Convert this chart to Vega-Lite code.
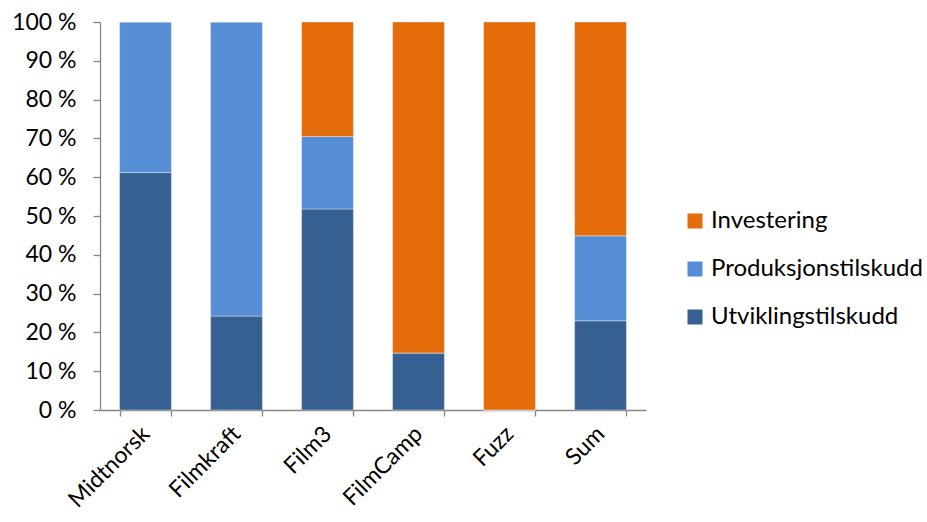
{
  "$schema": "https://vega.github.io/schema/vega-lite/v6.json",
  "autosize": {"type": "none"},
  "width": 546,
  "height": 388,
  "padding": {"left": 100, "top": 22, "right": 281, "bottom": 112},
  "background": "white",
  "config": {
    "font": "Lato",
    "view": {"stroke": null}
  },
  "data": {
    "values": [
      {"kilde": "Midtnorsk", "type": "Utviklingstilskudd", "rang": 1, "andel": 61.2},
      {"kilde": "Midtnorsk", "type": "Produksjonstilskudd", "rang": 2, "andel": 38.8},
      {"kilde": "Midtnorsk", "type": "Investering", "rang": 3, "andel": 0},
      {"kilde": "Filmkraft", "type": "Utviklingstilskudd", "rang": 1, "andel": 24.2},
      {"kilde": "Filmkraft", "type": "Produksjonstilskudd", "rang": 2, "andel": 75.8},
      {"kilde": "Filmkraft", "type": "Investering", "rang": 3, "andel": 0},
      {"kilde": "Film3", "type": "Utviklingstilskudd", "rang": 1, "andel": 51.8},
      {"kilde": "Film3", "type": "Produksjonstilskudd", "rang": 2, "andel": 18.7},
      {"kilde": "Film3", "type": "Investering", "rang": 3, "andel": 29.5},
      {"kilde": "FilmCamp", "type": "Utviklingstilskudd", "rang": 1, "andel": 14.7},
      {"kilde": "FilmCamp", "type": "Produksjonstilskudd", "rang": 2, "andel": 0},
      {"kilde": "FilmCamp", "type": "Investering", "rang": 3, "andel": 85.3},
      {"kilde": "Fuzz", "type": "Utviklingstilskudd", "rang": 1, "andel": 0},
      {"kilde": "Fuzz", "type": "Produksjonstilskudd", "rang": 2, "andel": 0},
      {"kilde": "Fuzz", "type": "Investering", "rang": 3, "andel": 100},
      {"kilde": "Sum", "type": "Utviklingstilskudd", "rang": 1, "andel": 23.0},
      {"kilde": "Sum", "type": "Produksjonstilskudd", "rang": 2, "andel": 21.9},
      {"kilde": "Sum", "type": "Investering", "rang": 3, "andel": 55.1}
    ]
  },
  "mark": {"type": "bar", "stroke": "#ffffff", "strokeWidth": 0.6, "strokeOpacity": 0.6},
  "encoding": {
    "x": {
      "field": "kilde",
      "type": "nominal",
      "sort": ["Midtnorsk", "Filmkraft", "Film3", "FilmCamp", "Fuzz", "Sum"],
      "scale": {"paddingInner": 0.43, "paddingOuter": 0.215},
      "axis": {
        "title": null,
        "labelAngle": -45,
        "labelAlign": "right",
        "labelBaseline": "middle",
        "labelFontSize": 23,
        "labelColor": "#000000",
        "labelPadding": 14,
        "domainColor": "#868686",
        "domainWidth": 1.3,
        "tickColor": "#868686",
        "tickWidth": 1.3,
        "tickSize": 6,
        "tickBand": "extent",
        "grid": false
      }
    },
    "y": {
      "field": "andel",
      "type": "quantitative",
      "stack": "normalize",
      "scale": {"domain": [0, 1], "nice": false},
      "axis": {
        "title": null,
        "values": [0, 0.1, 0.2, 0.3, 0.4, 0.5, 0.6, 0.7, 0.8, 0.9, 1],
        "labelExpr": "format(datum.value * 100, 'd') + ' %'",
        "labelFontSize": 23,
        "labelColor": "#000000",
        "labelPadding": 17,
        "domainColor": "#868686",
        "domainWidth": 1.3,
        "tickColor": "#868686",
        "tickWidth": 1.3,
        "tickSize": 7,
        "grid": false
      }
    },
    "color": {
      "field": "type",
      "type": "nominal",
      "scale": {
        "domain": ["Investering", "Produksjonstilskudd", "Utviklingstilskudd"],
        "range": ["#E46C0A", "#558ED5", "#376092"]
      },
      "legend": {
        "title": null,
        "orient": "none",
        "legendX": 583,
        "legendY": 187,
        "symbolType": "square",
        "symbolSize": 225,
        "symbolStrokeWidth": 0,
        "labelFontSize": 24,
        "labelColor": "#000000",
        "labelOffset": 4,
        "rowPadding": 24,
        "labelLimit": 300
      }
    },
    "order": {"field": "rang", "type": "quantitative"}
  }
}
